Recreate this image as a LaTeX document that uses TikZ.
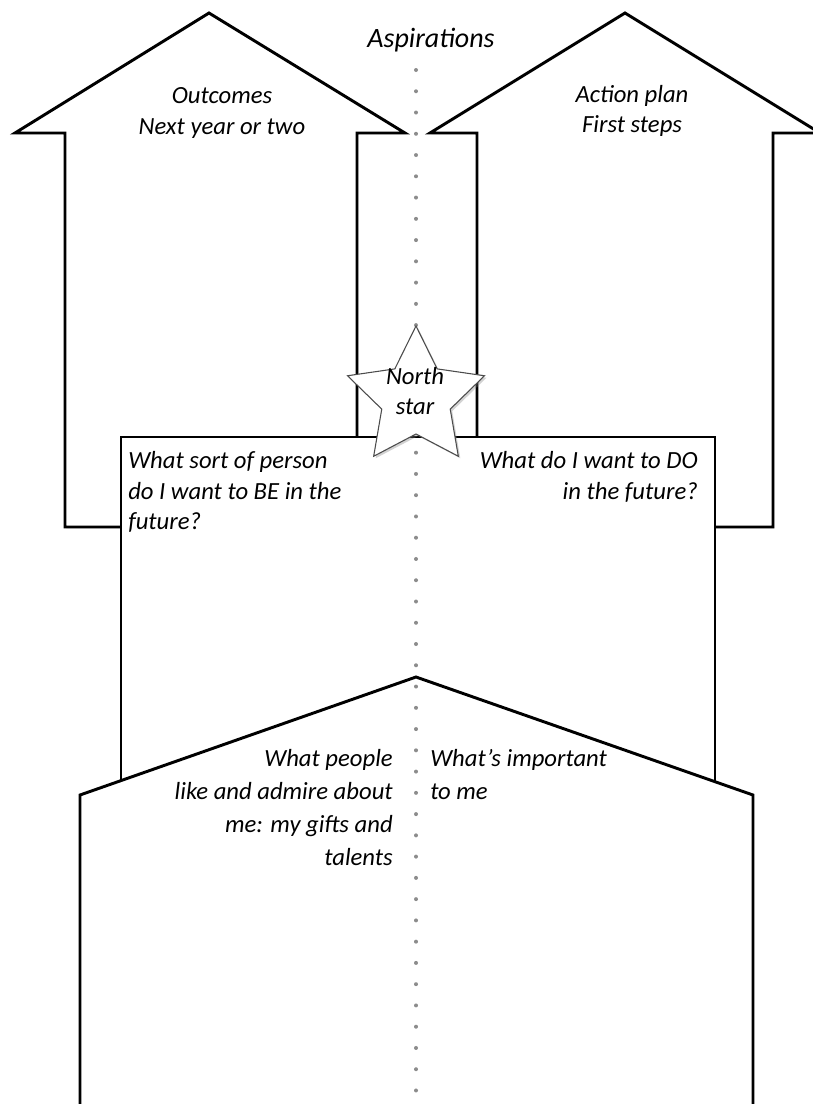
\documentclass[tikz,border=0pt]{standalone}
\usepackage{fontspec}
\setmainfont{Carlito}
\usetikzlibrary{shapes.geometric,shadows}

\tikzset{
  bigarrow/.style={draw, line width=2.2pt, fill=white, line join=miter,
    drop shadow={opacity=0.3, shadow xshift=1pt, shadow yshift=-1pt}},
  frontbox/.style={draw, line width=1pt, fill=white},
  housebox/.style={draw, line width=2.2pt, fill=white, line join=miter},
  guidedot/.style={fill=black!45},
  hand/.style={font=\fontsize{18.5}{23}\selectfont\itshape, inner sep=0pt},
  handwide/.style={font=\fontsize{18.5}{24.75}\selectfont\itshape, inner sep=0pt},
}

\begin{document}
\begin{tikzpicture}[x=0.75pt, y=-0.75pt]
  \useasboundingbox (0,0) rectangle (813,1104);
  \clip (0,0) rectangle (813,1104);

  % Arrows
  \draw[bigarrow] (65,527) -- (65,133) -- (15,133) -- (209,13) -- (405,133)
    -- (357,133) -- (357,527) -- cycle;
  \draw[bigarrow] (477,527) -- (477,133) -- (430,133) -- (625,13) -- (820,133)
    -- (773,133) -- (773,527) -- cycle;

  % Boxes
  \draw[frontbox] (121,437) rectangle (715,830);
  \draw[housebox] (80,1115) -- (80,795) -- (416,677) -- (753,795) -- (753,1115);

  % Centre line
  \foreach \i in {0,...,49}
    \fill[guidedot] (416,70+21.26*\i) circle (2);

  % Star
  \node[star, star points=5, star point ratio=2.0, minimum size=108pt,
    draw=black!70, line width=0.8pt, fill=white, inner sep=0pt,
    drop shadow={opacity=0.35, shadow xshift=1.5pt, shadow yshift=-1.5pt}]
    (star) at (416,398) {};

  % Labels
  \node[font=\fontsize{21}{24}\selectfont\itshape] (title) at (431,40) {Aspirations};
  \node[hand, align=center] (outcomes) at (222,113) {Outcomes\\Next year or two};
  \node[hand, align=center] (action) at (632,111) {Action plan\\First steps};
  \node[hand, align=center] (north) at (415,391) {North\\star};
  \node[hand, align=left, anchor=north west] (be) at (128,451)
    {What sort of person\\do I want to BE in the\\future?};
  \node[hand, align=right, anchor=north east] (do) at (698,451)
    {What do I want to DO\\in the future?};
  \node[handwide, align=right, anchor=north east] (admire) at (393,749)
    {What people\\like and admire about\\me: my gifts and\\talents};
  \node[handwide, align=left, anchor=north west] (important) at (430,749)
    {What’s important\\to me};
\end{tikzpicture}
\end{document}
